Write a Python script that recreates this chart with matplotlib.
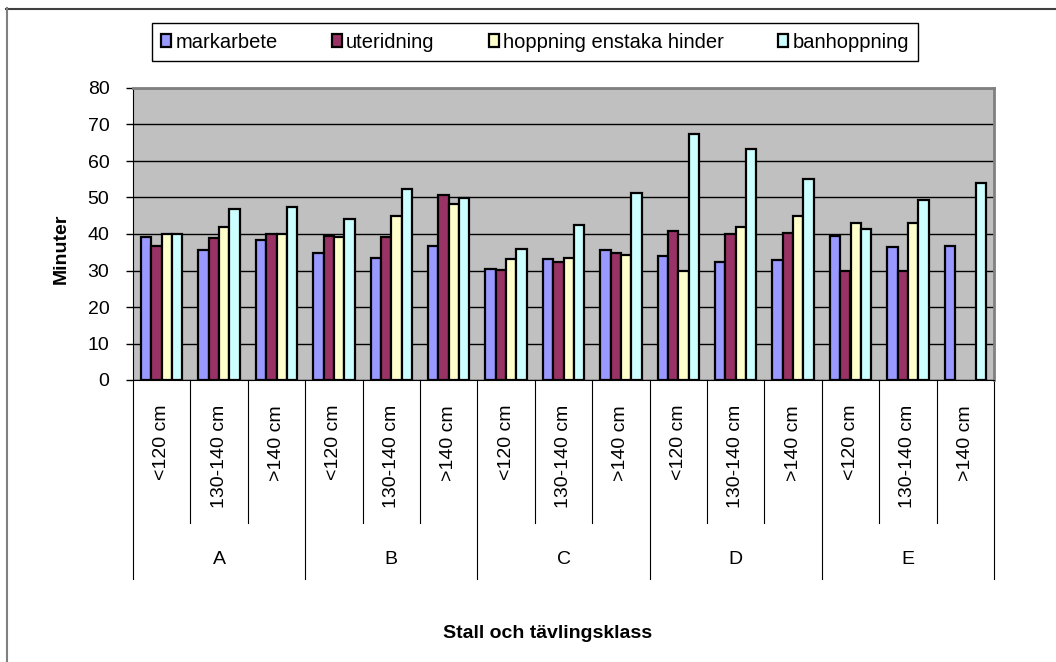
import numpy as np
import matplotlib
matplotlib.use("Agg")
import matplotlib.pyplot as plt
import matplotlib.transforms as mtransforms
from matplotlib.lines import Line2D
from matplotlib.patches import Patch

plt.rcParams['font.family'] = ['Liberation Sans', 'DejaVu Sans']

# data
stall = ['A', 'B', 'C', 'D', 'E']
klass = ['<120 cm', '130-140 cm', '>140 cm']
serier = ['markarbete', 'uteridning', 'hoppning enstaka hinder', 'banhoppning']
markarbete = [39.1, 35.6, 38.4, 34.9, 33.3, 36.8, 30.4, 33.1, 35.5, 33.9, 32.3, 32.8, 39.5, 36.5, 36.8]
uteridning = [36.7, 38.9, 39.9, 39.5, 39.2, 50.8, 30.1, 32.4, 34.9, 40.9, 40.0, 40.3, 29.9, 29.9, np.nan]
hoppning = [39.9, 41.9, 39.9, 39.2, 44.9, 48.1, 33.1, 33.4, 34.3, 29.9, 41.9, 44.9, 43.1, 43.1, np.nan]
banhoppning = [40.0, 46.9, 47.4, 44.0, 52.4, 49.9, 35.8, 42.6, 51.2, 67.4, 63.2, 55.0, 41.5, 49.3, 53.9]
farger = ['#9999FF', '#993366', '#FFFFCC', '#CCFFFF']

W, H = 1056, 662
fig = plt.figure(figsize=(W / 100, H / 100), dpi=100)
ax = fig.add_axes([133 / W, 1 - 380 / H, (994 - 133) / W, (380 - 88) / H])
ax.set_facecolor('#C0C0C0')

n = len(stall) * len(klass)
x = np.arange(n)
bw = 0.181
for i, (vals, c) in enumerate(zip([markarbete, uteridning, hoppning, banhoppning], farger)):
    ax.bar(x + (i - 1.5) * bw, vals, bw, color=c, edgecolor='black', linewidth=1.6, zorder=3)

ax.set_xlim(-0.5, n - 0.5)
ax.set_ylim(0, 80)
ax.set_yticks(range(0, 81, 10))
ax.yaxis.grid(True, color='black', linewidth=1, zorder=1)
ax.set_axisbelow(True)
ax.tick_params(axis='y', labelsize=14, length=5, width=1, pad=12, direction='out')
ax.set_xticks([])
for s in ['top', 'right']:
    ax.spines[s].set_color('#808080')
    ax.spines[s].set_linewidth(2)
ax.spines['left'].set_color('black')
ax.spines['bottom'].set_color('black')

# category axis: labels and separators
tr = mtransforms.blended_transform_factory(ax.transData, ax.transAxes)
ax_h = 380 - 88
for i in range(n):
    ax.text(x[i], -25 / ax_h, klass[i % 3], rotation=90, ha='center', va='top',
            fontsize=14, transform=tr)
for b in range(n + 1):
    bottom = -(579 - 380) / ax_h if b % 3 == 0 else -(523 - 380) / ax_h
    ax.plot([b - 0.5, b - 0.5], [0, bottom], color='black', linewidth=0.8,
            transform=tr, clip_on=False)
for g, name in enumerate(stall):
    ax.text(g * 3 + 1, -(560 - 380) / ax_h, name, ha='center', va='center',
            fontsize=14, transform=tr)

fig.text(548 / W, 1 - 634 / H, 'Stall och tävlingsklass', ha='center', va='center',
         fontsize=14, fontweight='bold')
fig.text(61 / W, 1 - 249 / H, 'Minuter', ha='center', va='center', rotation=90,
         fontsize=14, fontweight='bold')

handles = [Patch(facecolor=c, edgecolor='black', linewidth=1.6) for c in farger]
leg = fig.legend(handles, serier, loc='center', bbox_to_anchor=(535 / W, 1 - 42 / H),
                 ncol=4, fontsize=14.5, frameon=True, fancybox=False, edgecolor='black',
                 framealpha=1, handlelength=0.5, handleheight=0.6, handletextpad=0.2,
                 columnspacing=2.7, borderpad=0.45, borderaxespad=0)
leg.get_frame().set_linewidth(1)

# outer chart border
fig.add_artist(Line2D([6 / W, 1], [1 - 8.5 / H, 1 - 8.5 / H], color='#404040', linewidth=1.5,
                      transform=fig.transFigure))
fig.add_artist(Line2D([6.5 / W, 6.5 / W], [0, 1 - 8 / H], color='#808080', linewidth=1.5,
                      transform=fig.transFigure))

fig.savefig('out.png', dpi=100)
